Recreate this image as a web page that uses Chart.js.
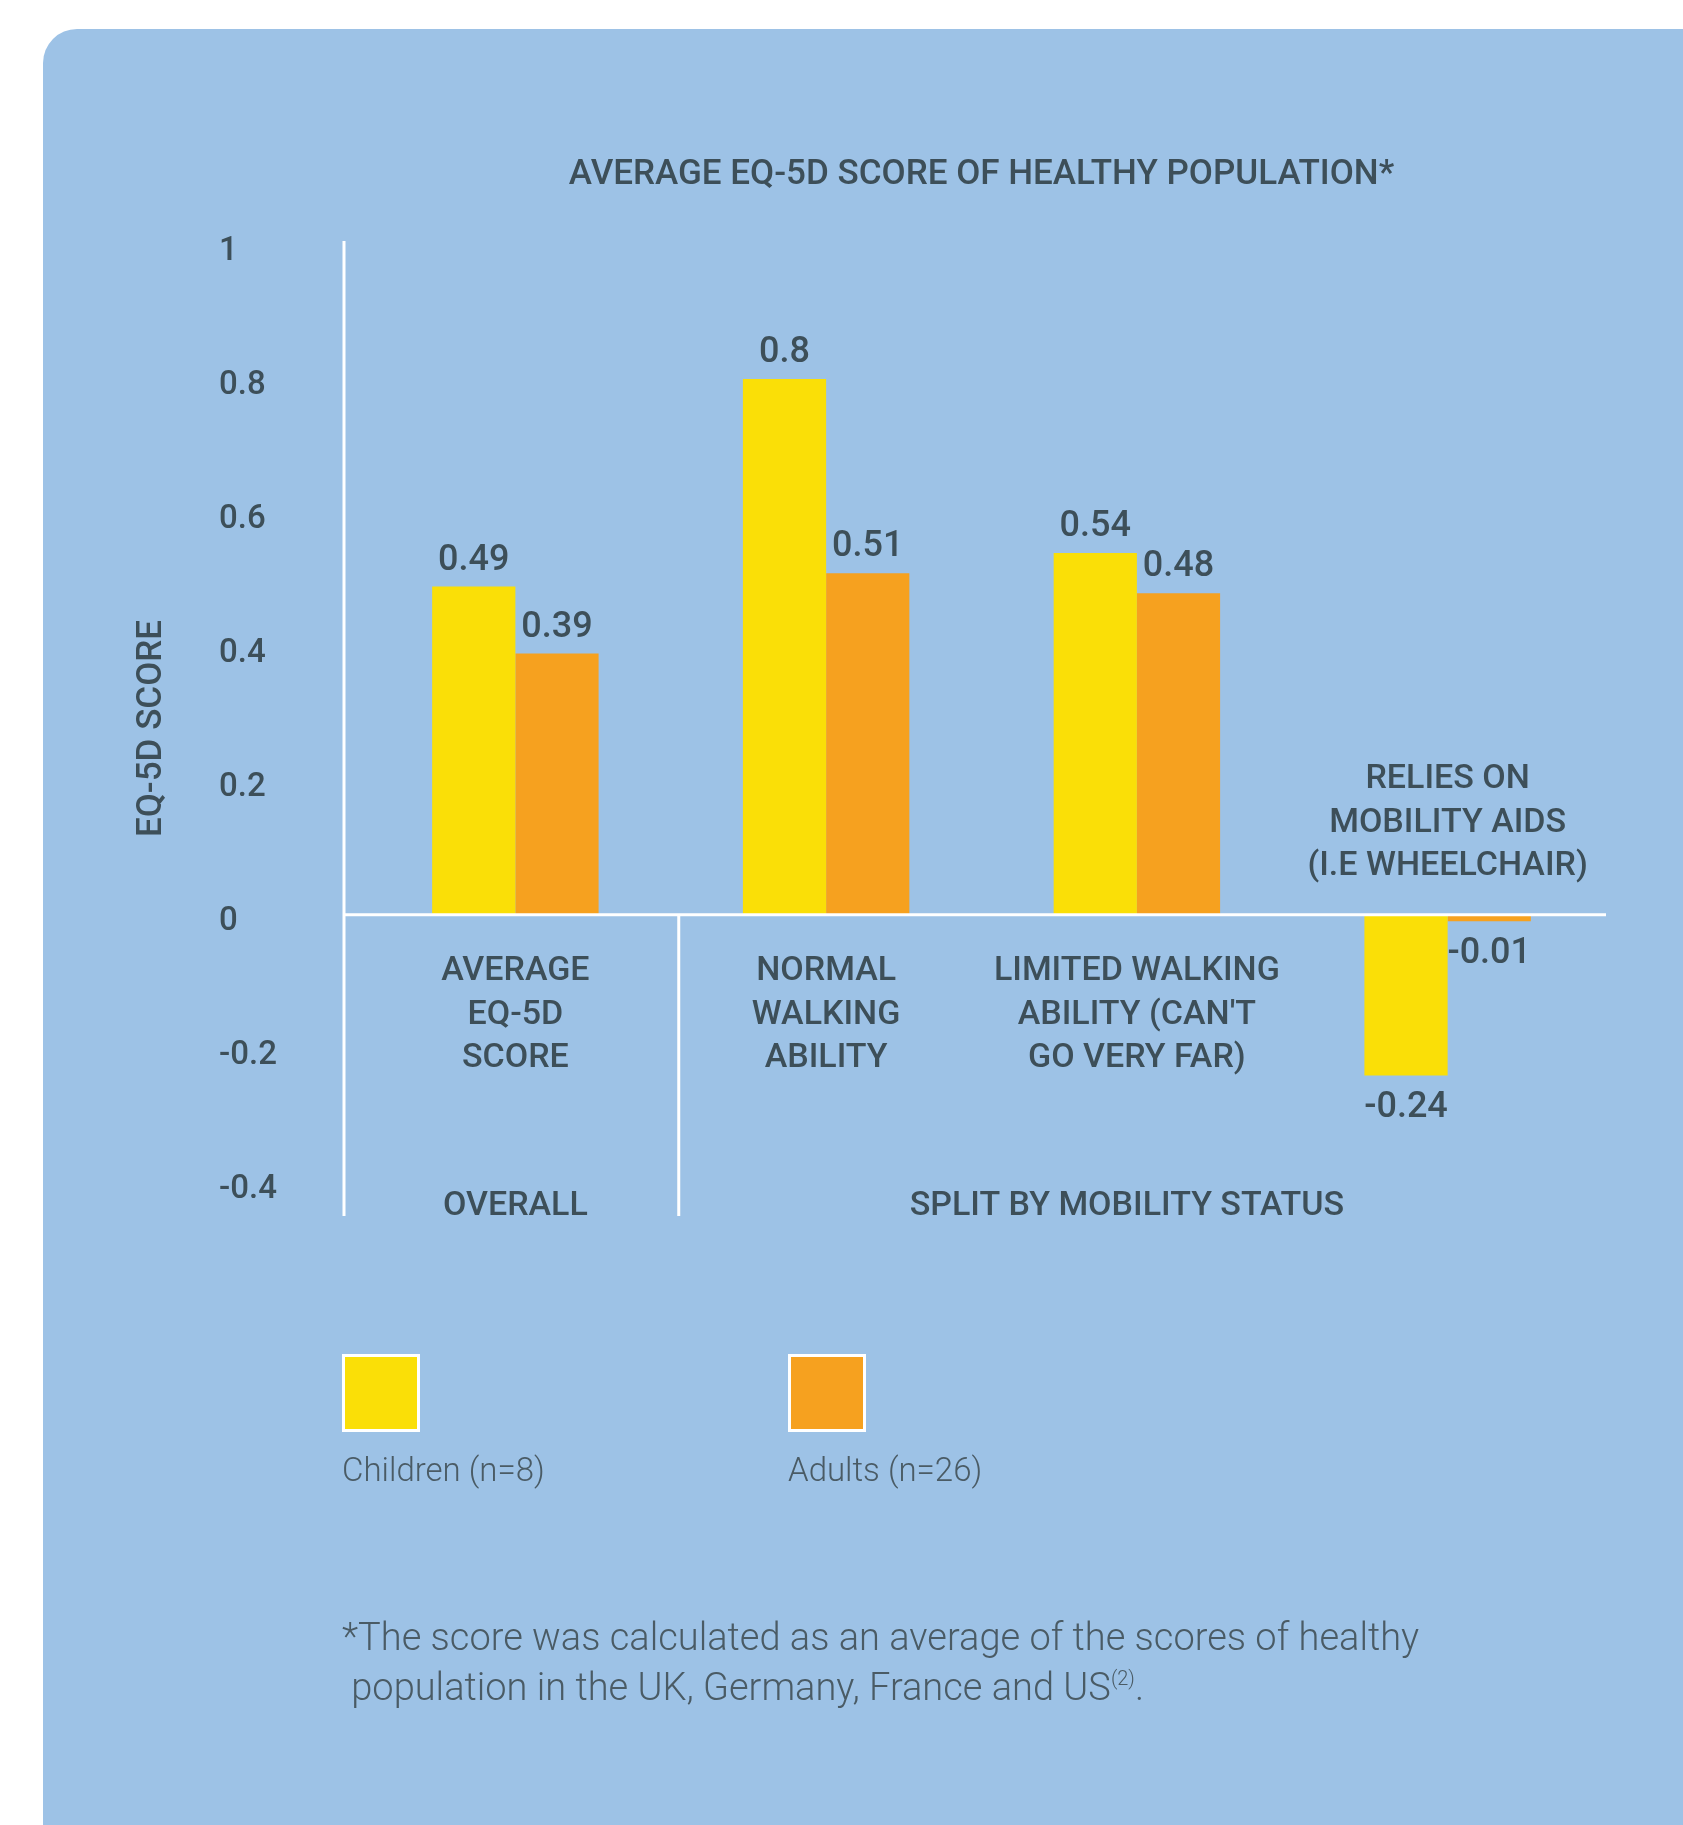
<!DOCTYPE html>
<html>
<head>
<meta charset="utf-8">
<title>Average EQ-5D score</title>
<script src="https://cdn.jsdelivr.net/npm/chart.js@4.4.1/dist/chart.umd.min.js"></script>
<style>
  html, body { margin: 0; padding: 0; background: #fff; }
  body { width: 1683px; height: 1825px; position: relative; overflow: hidden; }
  #panel { position: absolute; left: 43px; top: 29px; width: 1720px; height: 1860px;
           background: #9dc2e6; border-radius: 34px; }
  #wrap { position: absolute; left: 0; top: 0; width: 1683px; height: 1825px; }
  #note { position: absolute; left: 342px; top: 1612px; font-family: Roboto, sans-serif;
          font-weight: 300; font-size: 38px; line-height: 50px; color: #4a5b65; }
  #note sup { font-size: 20px; vertical-align: 15px; line-height: 0; }
</style>
</head>
<body>
<div id="panel"></div>
<div id="wrap"><canvas id="canvas"></canvas></div>
<div id="note">*The score was calculated as an average of the scores of healthy<br>&nbsp;population in the UK, Germany, France and US<sup>(2)</sup>.</div>
<script>
// EQ-5D score by group, children vs adults
var categories = [
    ['AVERAGE', 'EQ-5D', 'SCORE'],
    ['NORMAL', 'WALKING', 'ABILITY'],
    ['LIMITED WALKING', "ABILITY (CAN'T", 'GO VERY FAR)'],
    ['RELIES ON', 'MOBILITY AIDS', '(I.E WHEELCHAIR)']
];
var groupNames = ['OVERALL', 'SPLIT BY MOBILITY STATUS'];
var seriesNames = ['Children (n=8)', 'Adults (n=26)'];
var children = [0.49, 0.8, 0.54, -0.24];
var adults = [0.39, 0.51, 0.48, -0.01];
var yTicks = [-0.4, -0.2, 0, 0.2, 0.4, 0.6, 0.8, 1];
var yTickLabels = ['-0.4', '-0.2', '0', '0.2', '0.4', '0.6', '0.8', '1'];

var ink = '#3d4f59';
var softInk = '#4a5b65';
var yellow = '#fadf07';
var orange = '#f6a11f';

Chart.defaults.font.family = 'Roboto, sans-serif';
Chart.defaults.color = ink;

// white axis lines, value labels, category captions and the legend
var decorations = {
    id: 'decorations',
    afterDatasetsDraw: function(chart) {
        var ctx = chart.ctx;
        var area = chart.chartArea;
        var x = chart.scales.x;
        var y = chart.scales.y;
        var zeroY = y.getPixelForValue(0);
        var axisX = area.left - 16;

        ctx.save();
        ctx.strokeStyle = '#ffffff';
        ctx.lineWidth = 3;
        ctx.beginPath();
        ctx.moveTo(axisX, area.top);
        ctx.lineTo(axisX, area.bottom);
        ctx.moveTo(axisX, zeroY);
        ctx.lineTo(area.right + 3, zeroY);
        var splitX = (x.getPixelForValue(0) + x.getPixelForValue(1)) / 2 + 8;
        ctx.moveTo(splitX, zeroY);
        ctx.lineTo(splitX, area.bottom);
        ctx.stroke();

        // bar values
        ctx.fillStyle = ink;
        ctx.font = '500 36px Roboto, sans-serif';
        ctx.textAlign = 'center';
        chart.data.datasets.forEach(function(ds, i) {
            chart.getDatasetMeta(i).data.forEach(function(bar, j) {
                var v = ds.data[j];
                if (v >= 0) {
                    ctx.textBaseline = 'bottom';
                    ctx.fillText(String(v), bar.x, bar.y - 8);
                } else {
                    ctx.textBaseline = 'top';
                    ctx.fillText(String(v), bar.x, bar.y + 15);
                }
            });
        });

        // category captions
        ctx.font = '500 34px Roboto, sans-serif';
        ctx.textBaseline = 'middle';
        var lh = 43.6;
        categories.forEach(function(lines, j) {
            var cx = x.getPixelForValue(j);
            var below = children[j] >= 0;
            lines.forEach(function(t, k) {
                var ly = below ? zeroY + 57 + k * lh : zeroY - 48 - (lines.length - 1 - k) * lh;
                ctx.fillText(t, cx, ly);
            });
        });

        // group captions
        var gy = area.bottom - 10;
        ctx.fillText(groupNames[0], x.getPixelForValue(0), gy);
        ctx.fillText(groupNames[1], (x.getPixelForValue(1) + x.getPixelForValue(3)) / 2 - 10, gy);

        // legend: square swatch with the name underneath
        var legendX = [342, 788];
        chart.data.datasets.forEach(function(ds, i) {
            var lx = legendX[i];
            ctx.fillStyle = '#ffffff';
            ctx.fillRect(lx, 1354, 78, 78);
            ctx.fillStyle = ds.backgroundColor;
            ctx.fillRect(lx + 3, 1357, 72, 72);
            ctx.fillStyle = softInk;
            ctx.font = '300 33px Roboto, sans-serif';
            ctx.textAlign = 'left';
            ctx.fillText(ds.label, lx, 1473);
        });
        ctx.restore();
    }
};

var ctx = document.getElementById('canvas').getContext('2d');
var myChart = new Chart(ctx, {
    type: 'bar',
    data: {
        labels: categories,
        datasets: [{
            label: seriesNames[0],
            data: children,
            backgroundColor: yellow,
            borderWidth: 0
        },
        {
            label: seriesNames[1],
            data: adults,
            backgroundColor: orange,
            borderWidth: 0
        }]
    },
    options: {
        responsive: true,
        maintainAspectRatio: false,
        animation: false,
        events: [],
        categoryPercentage: 0.5356,
        barPercentage: 1,
        layout: {
            padding: { left: 219, right: 80, top: 0, bottom: 609 }
        },
        plugins: {
            legend: { display: false },
            tooltip: { enabled: false },
            title: {
                display: true,
                fullSize: false,
                text: 'AVERAGE EQ-5D SCORE OF HEALTHY POPULATION*',
                color: ink,
                font: { size: 35, weight: '500' },
                padding: { top: 154, bottom: 45 }
            }
        },
        scales: {
            x: {
                display: false,
                grid: { display: false }
            },
            y: {
                min: -0.45,
                max: 1.006,
                afterBuildTicks: function(axis) {
                    axis.ticks = yTicks.map(function(v) { return { value: v }; });
                },
                afterFit: function(axis) {
                    axis.width = 141;
                },
                grid: { display: false, drawTicks: false },
                border: { display: false },
                ticks: {
                    crossAlign: 'far',
                    labelOffset: 7,
                    color: ink,
                    font: { size: 33, weight: '500' },
                    callback: function(value) {
                        return yTickLabels[yTicks.indexOf(value)];
                    }
                },
                title: {
                    display: true,
                    text: 'EQ-5D SCORE',
                    color: ink,
                    font: { size: 35, weight: '500' },
                    padding: { top: -88, bottom: 0 }
                }
            }
        }
    },
    plugins: [decorations]
});
</script>
</body>
</html>
